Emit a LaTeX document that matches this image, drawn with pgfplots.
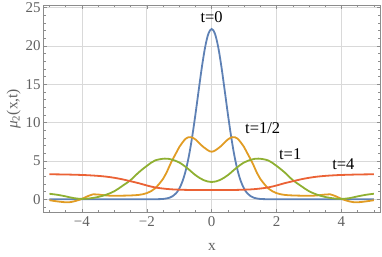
\documentclass[border=0pt]{standalone}
\usepackage{fontspec}
\setmainfont{Liberation Serif}
\usepackage{pgfplots}
\pgfplotsset{compat=1.18}
\definecolor{mblue}{HTML}{5E81B5}
\definecolor{morange}{HTML}{E19C24}
\definecolor{mgreen}{HTML}{8FB032}
\definecolor{mred}{HTML}{EB6235}
\newcommand{\tickfont}{\fontsize{15}{17}\selectfont}
\newcommand{\labfont}{\fontsize{15.5}{18}\selectfont}
\newcommand{\annfont}{\fontsize{16.5}{19}\selectfont}
\begin{document}
\begin{tikzpicture}
\useasboundingbox (0,0) rectangle (382bp,257bp);
\begin{axis}[
  at={(43.3bp,44.3bp)}, anchor=south west,
  scale only axis, width=337.4bp, height=207.7bp,
  xmin=-5.19, xmax=5.21, ymin=-1.75, ymax=25.33,
  xtick={-4,-2,0,2,4}, xticklabels={−4,−2,0,2,4},
  ytick={0,5,10,15,20,25}, yticklabels={0,5,10,15,20,25},
  minor xtick={-5,-4.5,-3.5,-3,-2.5,-1.5,-1,-0.5,0.5,1,1.5,2.5,3,3.5,4.5,5},
  minor ytick={-1,1,2,3,4,6,7,8,9,11,12,13,14,16,17,18,19,21,22,23,24},
  tick align=inside,
  grid=major, major grid style={color=black!15, line width=0.6bp},
  axis line style={color=black!45, line width=0.6bp},
  tick style={color=black!45, line width=0.5bp},
  major tick length=4bp, minor tick length=2.3bp,
  xticklabel style={font=\tickfont, text=black!62, inner sep=2.5bp, yshift=-1.5bp},
  yticklabel style={font=\tickfont, text=black!62, inner sep=2.5bp},
  xlabel={x}, ylabel={{\itshape μ}\textsubscript{2}(x,t)},
  every axis x label/.style={at={(axis description cs:0.5,-0.165)},anchor=center,font=\labfont,text=black!62},
  every axis y label/.style={at={(axis description cs:-0.088,0.5)},anchor=center,rotate=90,font=\labfont,text=black!62},
  every axis plot/.append style={line width=1.8bp, smooth, tension=0.55, no markers},
]
\addplot[mblue] coordinates {
(-5,0) (-3,0) (-2,0) (-1.7,0.01) (-1.5,0.04) (-1.4,0.1) (-1.3,0.2) (-1.2,0.41) (-1.1,0.77) (-1.0,1.38) (-0.9,2.34) (-0.8,3.75) (-0.7,5.69) (-0.6,8.17) (-0.5,11.09) (-0.4,14.23) (-0.3,17.29) (-0.2,19.87) (-0.1,21.6) (0,22.2)
(0.1,21.6) (0.2,19.87) (0.3,17.29) (0.4,14.23) (0.5,11.09) (0.6,8.17) (0.7,5.69) (0.8,3.75) (0.9,2.34) (1.0,1.38) (1.1,0.77) (1.2,0.41) (1.3,0.2) (1.4,0.1) (1.5,0.04) (1.7,0.01) (2,0) (3,0) (5,0)
};
\addplot[morange] coordinates {
(-5.0,-0.12) (-4.75,-0.28) (-4.45,-0.4) (-4.25,-0.28) (-4.0,0.05) (-3.85,0.35) (-3.65,0.65) (-3.5,0.62) (-3.25,0.5) (-3.0,0.45) (-2.75,0.47) (-2.5,0.5) (-2.25,0.57) (-2.0,0.8) (-1.75,1.4) (-1.5,2.65) (-1.4,3.4) (-1.25,4.8) (-1.1,6.0) (-1.0,6.8) (-0.8,7.9) (-0.65,8.1) (-0.5,7.8) (-0.25,6.8) (0,6.2)
(0.25,6.8) (0.5,7.8) (0.65,8.1) (0.8,7.9) (1.0,6.8) (1.1,6.0) (1.25,4.8) (1.4,3.4) (1.5,2.65) (1.75,1.4) (2.0,0.8) (2.25,0.57) (2.5,0.5) (2.75,0.47) (3.0,0.45) (3.25,0.5) (3.5,0.62) (3.65,0.65) (3.85,0.35) (4.0,0.05) (4.25,-0.28) (4.45,-0.4) (4.75,-0.28) (5.0,-0.12)
};
\addplot[mgreen] coordinates {
(-5.0,0.72) (-4.75,0.58) (-4.5,0.38) (-4.25,0.15) (-4.0,0.05) (-3.75,0.12) (-3.5,0.3) (-3.25,0.6) (-3.0,1.05) (-2.75,1.75) (-2.5,2.5) (-2.25,3.5) (-2.0,4.35) (-1.75,5.05) (-1.45,5.3) (-1.25,5.2) (-1.0,4.8) (-0.75,4.05) (-0.5,3.15) (-0.25,2.5) (0,2.25)
(0.25,2.5) (0.5,3.15) (0.75,4.05) (1.0,4.8) (1.25,5.2) (1.45,5.3) (1.75,5.05) (2.0,4.35) (2.25,3.5) (2.5,2.5) (2.75,1.75) (3.0,1.05) (3.25,0.6) (3.5,0.3) (3.75,0.12) (4.0,0.05) (4.25,0.15) (4.5,0.38) (4.75,0.58) (5.0,0.72)
};
\addplot[mred] coordinates {
(-5,3.26) (-4.5,3.23) (-4,3.17) (-3.75,3.12) (-3.5,3.05) (-3.25,2.95) (-3,2.8) (-2.75,2.6) (-2.5,2.35) (-2.25,2.1) (-2,1.8) (-1.75,1.55) (-1.5,1.4) (-1.25,1.3) (-1,1.25) (-0.75,1.22) (-0.5,1.21) (0,1.2)
(0.5,1.21) (0.75,1.22) (1,1.25) (1.25,1.3) (1.5,1.4) (1.75,1.55) (2,1.8) (2.25,2.1) (2.5,2.35) (2.75,2.6) (3,2.8) (3.25,2.95) (3.5,3.05) (3.75,3.12) (4,3.17) (4.5,3.23) (5,3.26)
};
\node[font=\annfont] at (axis cs:0,23.75) {t=0};
\node[font=\annfont] at (axis cs:1.57,9.3) {t=1/2};
\node[font=\annfont] at (axis cs:2.42,5.87) {t=1};
\node[font=\annfont] at (axis cs:4.06,4.56) {t=4};
\end{axis}
\end{tikzpicture}
\end{document}
